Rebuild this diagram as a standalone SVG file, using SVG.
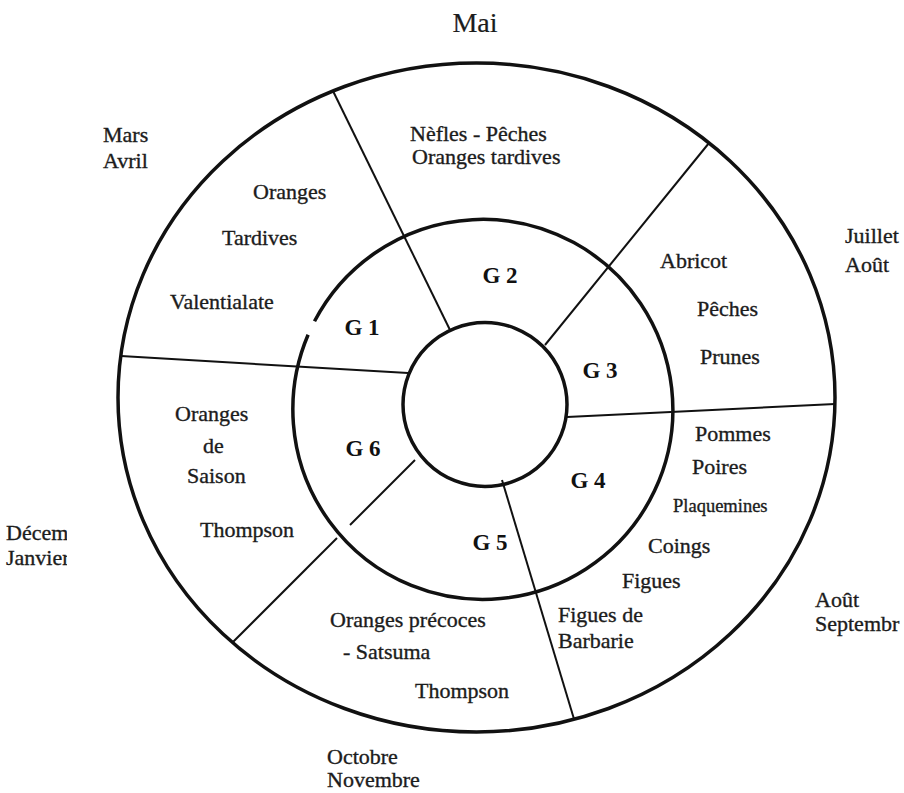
<svg xmlns="http://www.w3.org/2000/svg" width="904" height="793" viewBox="0 0 904 793">
<style>
.t{font-family:"Liberation Serif","Times New Roman",serif;font-size:22px;fill:#1c1c1c;stroke:#1c1c1c;stroke-width:0.35}
.g{font-family:"Liberation Serif","Times New Roman",serif;font-size:23px;font-weight:bold;fill:#111;text-anchor:middle}
.ring{fill:none;stroke:#111;stroke-width:3.5}
.div{fill:none;stroke:#111;stroke-width:2}
</style>
<defs>
<clipPath id="cl"><rect x="0" y="500" width="67" height="100"/></clipPath>
</defs>
<rect width="904" height="793" fill="#fff"/>
<g id="rings">
<ellipse id="outer" class="ring" cx="476.5" cy="397.5" rx="358.5" ry="334.5"/>
<path id="middle" class="ring" d="M314.5,321.3 A190,190 0 1 1 308.1,334.8"/>
<circle id="inner" class="ring" cx="485" cy="404.5" r="82"/>
</g>
<g id="connectors">
<line class="div" x1="450" y1="330" x2="333" y2="91"/>
<line class="div" x1="545" y1="345" x2="709" y2="143"/>
<line class="div" x1="567" y1="417" x2="835" y2="404"/>
<line class="div" x1="502" y1="480" x2="574" y2="719"/>
<line class="div" x1="415" y1="460" x2="350" y2="525"/>
<line class="div" x1="337" y1="538" x2="232" y2="643"/>
<line class="div" x1="408" y1="373" x2="121" y2="356"/>
</g>
<g id="months">
<text class="t" x="475" y="32" text-anchor="middle" style="font-size:28px;stroke-width:0.2">Mai</text>
<text class="t" x="103" y="142">Mars</text>
<text class="t" x="103" y="168">Avril</text>
<text class="t" x="845" y="243">Juillet</text>
<text class="t" x="845" y="272">Août</text>
<text class="t" x="815" y="607">Août</text>
<text class="t" x="815" y="631">Septembr</text>
<text class="t" x="327" y="764">Octobre</text>
<text class="t" x="327" y="787">Novembre</text>
<g clip-path="url(#cl)">
<text class="t" x="6" y="540">Décembre</text>
<text class="t" x="6" y="565">Janvier</text>
</g>
</g>
<g id="G1">
<text class="g" x="362" y="335">G 1</text>
<text class="t" x="253" y="199">Oranges</text>
<text class="t" x="222" y="245">Tardives</text>
<text class="t" x="170" y="309">Valentialate</text>
</g>
<g id="G2">
<text class="g" x="500" y="283">G 2</text>
<text class="t" x="410" y="141">Nèfles - Pêches</text>
<text class="t" x="412" y="164">Oranges tardives</text>
</g>
<g id="G3">
<text class="g" x="600" y="378">G 3</text>
<text class="t" x="660" y="268">Abricot</text>
<text class="t" x="697" y="316">Pêches</text>
<text class="t" x="700" y="364">Prunes</text>
</g>
<g id="G4">
<text class="g" x="588" y="488">G 4</text>
<text class="t" x="695" y="441">Pommes</text>
<text class="t" x="692" y="474">Poires</text>
<text class="t" x="673" y="512" style="font-size:18.5px">Plaquemines</text>
<text class="t" x="648" y="553">Coings</text>
<text class="t" x="622" y="588">Figues</text>
<text class="t" x="558" y="622">Figues de</text>
<text class="t" x="558" y="648">Barbarie</text>
</g>
<g id="G5">
<text class="g" x="490" y="550">G 5</text>
<text class="t" x="330" y="627">Oranges précoces</text>
<text class="t" x="343" y="659">- Satsuma</text>
<text class="t" x="415" y="698">Thompson</text>
</g>
<g id="G6">
<text class="g" x="363" y="456">G 6</text>
<text class="t" x="175" y="421">Oranges</text>
<text class="t" x="203" y="453">de</text>
<text class="t" x="187" y="483">Saison</text>
<text class="t" x="200" y="537">Thompson</text>
</g>
</svg>
